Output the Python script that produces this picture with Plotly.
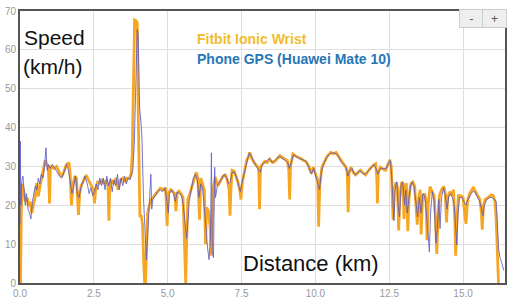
import plotly.graph_objects as go

# Fitbit Ionic Wrist: (distance km, speed km/h)
fitbit_pts = [
    (0.00, 0), (0.02, 0), (0.04, 16), (0.07, 25.5), (0.12, 24), (0.18, 21), (0.24, 22), (0.29, 19.8),
    (0.34, 21), (0.40, 18), (0.45, 20), (0.51, 22), (0.57, 25.7), (0.62, 22.3), (0.68, 25), (0.74, 27.3),
    (0.80, 29), (0.85, 31.5), (0.90, 30.5), (0.96, 30), (1.00, 20.5), (1.03, 29.5), (1.07, 30), (1.15, 29.5),
    (1.24, 30), (1.32, 28.5), (1.40, 27.3), (1.48, 28.5), (1.57, 30.5), (1.66, 31), (1.70, 28), (1.74, 20),
    (1.78, 24), (1.80, 25.7), (1.86, 27.5), (1.91, 27), (1.98, 17.5), (2.02, 23), (2.07, 25), (2.15, 26.5),
    (2.24, 27.8), (2.32, 26.5), (2.41, 25), (2.48, 24), (2.52, 20.5), (2.57, 24.5), (2.63, 26), (2.70, 25.7),
    (2.78, 26.5), (2.85, 25.5), (2.92, 26.5), (2.98, 25), (3.01, 16), (3.04, 25), (3.10, 26.5), (3.18, 25.5),
    (3.25, 27), (3.32, 24), (3.40, 26.5), (3.48, 27), (3.55, 26), (3.62, 27), (3.70, 27), (3.76, 28),
    (3.80, 33), (3.83, 45), (3.86, 62), (3.88, 67.7), (3.93, 67.5), (3.97, 67), (4.00, 45), (4.03, 25),
    (4.06, 17), (4.10, 17.5), (4.15, 15), (4.19, 5), (4.22, 0), (4.25, 0), (4.28, 12), (4.32, 18),
    (4.38, 20), (4.45, 21.5), (4.55, 22.5), (4.65, 23.5), (4.75, 24.4), (4.85, 24), (4.93, 24.5), (4.98, 14.7),
    (5.02, 23), (5.10, 24), (5.18, 23.5), (5.24, 23), (5.28, 18.5), (5.32, 23), (5.38, 23.6), (5.45, 23),
    (5.52, 22), (5.58, 8), (5.61, 0), (5.64, 10), (5.68, 21.5), (5.75, 23), (5.82, 25), (5.89, 26.5),
    (5.97, 28.5), (6.02, 27), (6.08, 16.3), (6.12, 27), (6.18, 25.5), (6.24, 24), (6.28, 10), (6.32, 19.5),
    (6.38, 18.5), (6.44, 14), (6.47, 7), (6.51, 15), (6.55, 24.8), (6.61, 27.3), (6.70, 25), (6.80, 26.5),
    (6.88, 27.5), (6.95, 27.8), (7.02, 26.5), (7.08, 24), (7.11, 17.3), (7.14, 24), (7.18, 29), (7.25, 28.8),
    (7.32, 27.5), (7.39, 25.7), (7.44, 24), (7.48, 21.5), (7.53, 26), (7.58, 28.2), (7.67, 31.5), (7.73, 32.5),
    (7.78, 33.6), (7.85, 32), (7.95, 30.7), (8.02, 30.2), (8.08, 29.5), (8.11, 19), (8.14, 29.8), (8.20, 30.5),
    (8.28, 31.3), (8.37, 31), (8.45, 31.9), (8.55, 31), (8.63, 31.3), (8.72, 32), (8.80, 32.8), (8.88, 32.3),
    (8.96, 32), (9.05, 31.5), (9.10, 29), (9.13, 21.5), (9.16, 30), (9.24, 33.2), (9.35, 32.6), (9.45, 32.3),
    (9.52, 32), (9.60, 31.5), (9.68, 31.3), (9.78, 30), (9.86, 28.2), (9.93, 29.8), (10.02, 28), (10.08, 26.5),
    (10.11, 14.5), (10.15, 25), (10.22, 29.8), (10.32, 31.5), (10.40, 32.6), (10.52, 33.6), (10.62, 33.3), (10.70, 33.6),
    (10.78, 32.6), (10.87, 31.5), (10.95, 30.7), (11.02, 30), (11.08, 28.5), (11.11, 18.2), (11.14, 28.5), (11.20, 29.8),
    (11.28, 28.5), (11.36, 27.8), (11.45, 28.5), (11.53, 29), (11.62, 28.3), (11.70, 27.8), (11.80, 29), (11.88, 29.8),
    (11.96, 30.3), (12.04, 30.7), (12.08, 27), (12.10, 20.5), (12.13, 28.5), (12.20, 29.8), (12.30, 29.2), (12.38, 29),
    (12.45, 30.5), (12.52, 31.7), (12.57, 30), (12.60, 24.8), (12.63, 16.3), (12.67, 24), (12.73, 26), (12.78, 24.5),
    (12.82, 13.5), (12.86, 22), (12.92, 26), (12.97, 25.5), (13.00, 16.5), (13.04, 24), (13.08, 25.7), (13.13, 13.3),
    (13.17, 22), (13.23, 25.5), (13.30, 26), (13.36, 25), (13.41, 18.2), (13.45, 15), (13.50, 22), (13.55, 24),
    (13.58, 12.5), (13.63, 22.3), (13.70, 23), (13.75, 21), (13.78, 11), (13.82, 20), (13.88, 24.8), (13.95, 23.5),
    (14.02, 22.5), (14.07, 16), (14.11, 7.5), (14.15, 16), (14.20, 22.5), (14.27, 24), (14.35, 24.8), (14.40, 23),
    (14.44, 15.6), (14.48, 22), (14.55, 23.5), (14.62, 22.5), (14.68, 24), (14.72, 16), (14.75, 7), (14.79, 16),
    (14.84, 22.5), (14.92, 22.5), (15.00, 22), (15.06, 17.5), (15.10, 15.2), (15.15, 21), (15.22, 23), (15.30, 24),
    (15.35, 24.7), (15.42, 23.5), (15.50, 22.5), (15.57, 21.5), (15.62, 18), (15.65, 13.7), (15.69, 20), (15.75, 21.5),
    (15.85, 22), (15.95, 22.7), (16.02, 22.5), (16.08, 21), (16.12, 16.5), (16.17, 4), (16.20, 0),
]

# Phone GPS (Huawei Mate 10): (distance km, speed km/h)
phone_pts = [
    (0.00, 15), (0.01, 36.5), (0.03, 20), (0.06, 26), (0.10, 27.5), (0.14, 22), (0.18, 20), (0.22, 23),
    (0.27, 19), (0.32, 18), (0.37, 16.5), (0.42, 21), (0.47, 23), (0.52, 25), (0.57, 24), (0.62, 27),
    (0.67, 25.5), (0.72, 28), (0.78, 27), (0.83, 30), (0.88, 34.8), (0.92, 29), (0.97, 30.5), (1.03, 29.5),
    (1.10, 30.5), (1.18, 29.5), (1.26, 28.5), (1.34, 27.5), (1.42, 27), (1.50, 29), (1.58, 30.5), (1.64, 29),
    (1.70, 26), (1.76, 23), (1.82, 25), (1.88, 27.5), (1.94, 23), (2.00, 22), (2.06, 24.5), (2.12, 26),
    (2.20, 27.5), (2.28, 25.5), (2.34, 23), (2.40, 24.5), (2.46, 22.5), (2.52, 23.5), (2.58, 25.5), (2.64, 24),
    (2.70, 27), (2.76, 25), (2.82, 27), (2.88, 24), (2.94, 27.5), (3.00, 25), (3.06, 27), (3.12, 23.5),
    (3.18, 26.5), (3.24, 25), (3.30, 28), (3.36, 24), (3.42, 27), (3.48, 25), (3.54, 27.5), (3.60, 25.5),
    (3.66, 27), (3.72, 26.5), (3.78, 28), (3.82, 29), (3.87, 36), (3.92, 55), (3.97, 65.2), (4.00, 64),
    (4.05, 45), (4.10, 41), (4.13, 37), (4.18, 22), (4.23, 12), (4.28, 6), (4.32, 12), (4.36, 18),
    (4.40, 21), (4.43, 28), (4.46, 19), (4.50, 21.5), (4.58, 22.5), (4.66, 23.5), (4.74, 24), (4.82, 23.5),
    (4.90, 24.5), (4.96, 22), (5.02, 18), (5.06, 23), (5.14, 24), (5.20, 23), (5.26, 21), (5.32, 23.5),
    (5.40, 23), (5.47, 22.5), (5.53, 20), (5.58, 15), (5.64, 11.5), (5.68, 15), (5.73, 21), (5.80, 24),
    (5.87, 27), (5.94, 28), (6.00, 26.5), (6.06, 22), (6.12, 25.5), (6.18, 24.5), (6.24, 20), (6.30, 14),
    (6.35, 9), (6.40, 6), (6.45, 12), (6.48, 33.5), (6.51, 8), (6.55, 6.5), (6.59, 29.8), (6.62, 22),
    (6.68, 25), (6.76, 26), (6.84, 27), (6.92, 28), (7.00, 27), (7.06, 25.5), (7.12, 26), (7.18, 28.5),
    (7.26, 28.5), (7.34, 27), (7.40, 25), (7.46, 23.5), (7.52, 26), (7.60, 28.5), (7.68, 31.5), (7.76, 33.5),
    (7.84, 32.5), (7.92, 31), (8.00, 30), (8.08, 29), (8.14, 28.5), (8.20, 30.5), (8.28, 31), (8.36, 31.5),
    (8.45, 32), (8.54, 31), (8.62, 31.5), (8.70, 32.3), (8.80, 32.5), (8.90, 32), (8.98, 31.5), (9.06, 31),
    (9.12, 29.5), (9.18, 31), (9.26, 33), (9.36, 32.5), (9.46, 32), (9.55, 31.8), (9.64, 31.5), (9.72, 30.8),
    (9.80, 29.5), (9.87, 28), (9.94, 29.5), (10.02, 27.5), (10.08, 25.5), (10.14, 24), (10.20, 28.5), (10.30, 31),
    (10.40, 32.5), (10.50, 33.3), (10.60, 33.5), (10.70, 33.3), (10.80, 32.3), (10.88, 31), (10.96, 30.5), (11.04, 29.8),
    (11.10, 27.5), (11.16, 28.8), (11.24, 29.5), (11.32, 28), (11.40, 28), (11.48, 29), (11.56, 28.5), (11.64, 28),
    (11.72, 28.2), (11.82, 29.2), (11.90, 30), (11.98, 30.5), (12.05, 29.5), (12.12, 28), (12.20, 29.5), (12.30, 29.5),
    (12.40, 29.5), (12.48, 31), (12.54, 31.5), (12.58, 28), (12.62, 22), (12.66, 16), (12.70, 24), (12.76, 26),
    (12.80, 20), (12.85, 17), (12.90, 25), (12.96, 26), (13.02, 20), (13.06, 24), (13.11, 18), (13.16, 21),
    (13.22, 25), (13.28, 26), (13.34, 24.5), (13.40, 21), (13.46, 17), (13.52, 22), (13.58, 18), (13.64, 23),
    (13.70, 22.5), (13.76, 18), (13.82, 12), (13.86, 8), (13.90, 18), (13.96, 23.5), (14.02, 21), (14.08, 10.2),
    (14.13, 14), (14.18, 21.5), (14.22, 14), (14.27, 22), (14.34, 24.5), (14.40, 22.5), (14.46, 19), (14.52, 22.5),
    (14.58, 23), (14.64, 22), (14.70, 20), (14.76, 14), (14.79, 9.8), (14.83, 18), (14.88, 22), (14.96, 22),
    (15.04, 21), (15.10, 20), (15.16, 21.5), (15.24, 22.5), (15.32, 23.5), (15.40, 23.5), (15.48, 22), (15.56, 21),
    (15.63, 19), (15.67, 17.3), (15.72, 20), (15.80, 21.5), (15.90, 22), (15.98, 22), (16.06, 21.5), (16.12, 21),
    (16.16, 15.7), (16.20, 9), (16.25, 6.5), (16.30, 5.5), (16.38, 3.2),
]

fitbit_km = [p[0] for p in fitbit_pts]
fitbit_speed = [p[1] for p in fitbit_pts]
phone_km = [p[0] for p in phone_pts]
phone_speed = [p[1] for p in phone_pts]

x_ticks = [0, 2.5, 5.0, 7.5, 10.0, 12.5, 15.0]
x_tick_labels = ["0.0", "2.5", "5.0", "7.5", "10.0", "12.5", "15.0"]
y_ticks = [0, 10, 20, 30, 40, 50, 60, 70]

fig = go.Figure()
fig.add_trace(go.Scatter(x=fitbit_km, y=fitbit_speed, mode="lines",
                         line=dict(color="#F6A623", width=2.8), name="Fitbit Ionic Wrist"))
fig.add_trace(go.Scatter(x=phone_km, y=phone_speed, mode="lines",
                         line=dict(color="#5656C8", width=0.9), opacity=0.9,
                         name="Phone GPS (Huawei Mate 10)"))

tickfont = dict(family="Liberation Sans", size=10, color="#999999")
fig.update_layout(
    width=512, height=304,
    margin=dict(l=16, r=5, t=6, b=18),
    paper_bgcolor="white", plot_bgcolor="white",
    showlegend=False,
    xaxis=dict(range=[0, 16.42], tickvals=x_ticks, ticktext=x_tick_labels, showgrid=True,
               gridcolor="#dedede", gridwidth=1, zeroline=False, showline=True, linecolor="#555555",
               linewidth=2, mirror=True, ticks="", tickfont=tickfont),
    yaxis=dict(range=[0, 70], tickvals=y_ticks, showgrid=True, gridcolor="#dedede", gridwidth=1,
               zeroline=False, showline=True, linecolor="#555555", linewidth=2, mirror=True,
               ticks="", tickfont=tickfont),
)

big = dict(family="Liberation Sans", size=21, color="#111111")
anns = [
    dict(text="Speed", x=0.004, y=0.9036, font=big),
    dict(text="(km/h)", x=0.002, y=0.796, font=big),
    dict(text="Distance (km)", x=0.456, y=0.0714, font=dict(family="Liberation Sans", size=22, color="#111111")),
    dict(text="<b>Fitbit Ionic Wrist</b>", x=0.360, y=0.8964,
         font=dict(family="Liberation Sans", size=14, color="#F2BC2C")),
    dict(text="<b>Phone GPS (Huawei Mate 10)</b>", x=0.360, y=0.825,
         font=dict(family="Liberation Sans", size=14, color="#2776B6")),
]
for a in anns:
    fig.add_annotation(xref="paper", yref="paper", xanchor="left", yanchor="middle",
                       showarrow=False, **a)

for label, px in (("-", 0.9318), ("+", 0.9786)):
    fig.add_annotation(xref="paper", yref="paper", x=px, y=0.973, text=label, showarrow=False,
                       xanchor="center", yanchor="middle", width=21, height=15,
                       bgcolor="#eeeeee", bordercolor="#cccccc", borderwidth=1,
                       font=dict(family="Liberation Sans", size=12, color="#555555"))

fig.write_html("out.html")
